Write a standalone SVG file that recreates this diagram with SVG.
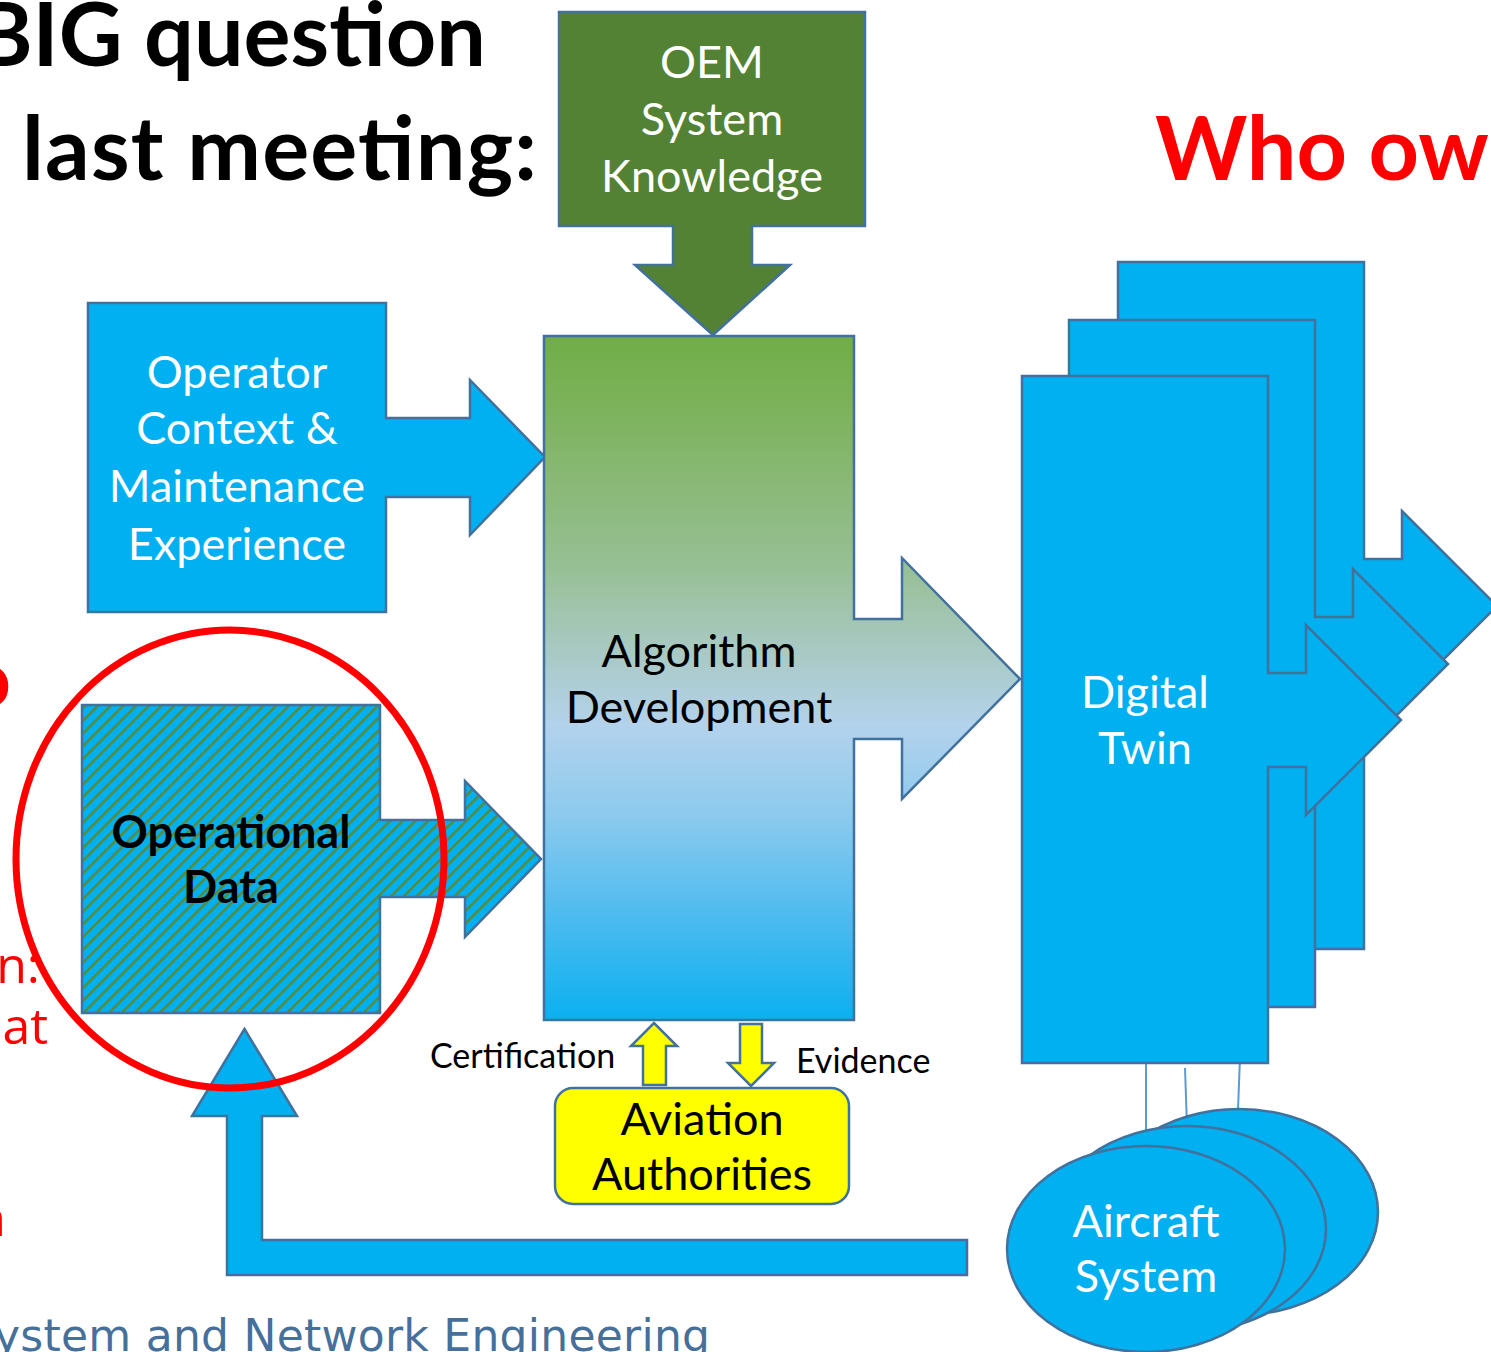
<svg xmlns="http://www.w3.org/2000/svg" width="1491" height="1352" viewBox="0 0 1491 1352">
<defs>
<style>
.shape{stroke:#41719c;stroke-width:2.5;stroke-linejoin:miter}
.blue{fill:#00b0f0}
.t{font-family:Lato,"Liberation Sans",sans-serif;font-size:45px;text-anchor:middle}
.w{fill:#ffffff}
.k{fill:#000000}
.title{font-family:Lato,"Liberation Sans",sans-serif;font-weight:bold;font-size:88px}
.lbl{font-family:Lato,"Liberation Sans",sans-serif;font-size:34px;fill:#000000}
.red{fill:#ff0000}
.redtxt{font-family:"Open Sans","Liberation Sans",sans-serif;font-size:50px;fill:#ff0000;text-anchor:end}
.link{stroke:#5b9bd5;stroke-width:2;fill:none}
</style>
<linearGradient id="algGrad" x1="0" y1="0" x2="0" y2="1">
<stop offset="0" stop-color="#70ad47"/>
<stop offset="0.1" stop-color="#7cb25a"/>
<stop offset="0.33" stop-color="#96bf92"/>
<stop offset="0.46" stop-color="#a9c9c3"/>
<stop offset="0.57" stop-color="#b3d2ec"/>
<stop offset="0.7" stop-color="#8ccaee"/>
<stop offset="0.84" stop-color="#50bcef"/>
<stop offset="1" stop-color="#0ab0f0"/>
</linearGradient>
<pattern id="hatch" width="9" height="9" patternUnits="userSpaceOnUse" patternTransform="rotate(45)">
<rect width="9" height="9" fill="#00b0f0"/>
<rect width="2.5" height="9" fill="#5a8a36"/>
</pattern>
<polygon id="dtShape" points="1022,376 1268,376 1268,673 1306,673 1306,625 1401,720 1306,815 1306,767 1268,767 1268,1063 1022,1063"/>
</defs>
<rect width="1491" height="1352" fill="#ffffff"/>

<g id="titles">
<text class="title k" x="486" y="66" text-anchor="end">BIG question</text>
<text class="title k" x="22" y="180" textLength="515" lengthAdjust="spacing">last meeting:</text>
<text class="title red" x="1155" y="180">Who ow</text>
<text x="-35" y="707" font-family="Lato,'Liberation Sans',sans-serif" font-weight="bold" font-size="80" fill="#ff0000">o</text>
<text class="redtxt" x="40" y="983">n:</text>
<text class="redtxt" x="48" y="1044">at</text>
<text class="redtxt" x="6" y="1236">n</text>
<text x="-6" y="1351" font-family="'DejaVu Sans',Verdana,sans-serif" font-size="44" fill="#46709a" textLength="716" lengthAdjust="spacing">ystem and Network Engineering</text>
</g>

<g id="connectors">
<polygon id="feedback-arrow" class="shape blue" points="967,1240 967,1275 227,1275 227,1116 192,1116 244.5,1029 297,1116 262,1116 262,1240"/>
<polygon id="certification-arrow" class="shape" fill="#ffff00" points="643,1085 643,1046 631,1046 654,1023 677,1046 666,1046 666,1085"/>
<polygon id="evidence-arrow" class="shape" fill="#ffff00" points="740,1024 762,1024 762,1063 774,1063 751,1086 728,1063 740,1063"/>
<line class="link" x1="1146" y1="1063" x2="1146" y2="1146"/>
<line class="link" x1="1185" y1="1068" x2="1187" y2="1126"/>
<line class="link" x1="1240" y1="1057" x2="1238" y2="1110"/>
</g>

<g id="oem">
<polygon class="shape" fill="#548235" points="559,12 865,12 865,226 752,226 752,265 790,265 713,335 635,265 673,265 673,226 559,226"/>
<text class="t w" x="712" y="78">OEM</text>
<text class="t w" x="712" y="135">System</text>
<text class="t w" x="712" y="192">Knowledge</text>
</g>

<g id="operator">
<polygon class="shape blue" points="88,303 386,303 386,418 470,418 470,380 545,457 470,535 470,497 386,497 386,612 88,612"/>
<text class="t w" x="237" y="388">Operator</text>
<text class="t w" x="237" y="444">Context &amp;</text>
<text class="t w" x="237" y="502">Maintenance</text>
<text class="t w" x="237" y="560">Experience</text>
</g>

<g id="algorithm">
<polygon class="shape" fill="url(#algGrad)" points="544,336 854,336 854,619 902,619 902,558 1020,679 902,799 902,739 854,739 854,1020 544,1020"/>
<text class="t k" x="699" y="667">Algorithm</text>
<text class="t k" x="699" y="723">Development</text>
</g>

<g id="operational-data">
<polygon class="shape" fill="url(#hatch)" points="82,705 380,705 380,820 465,820 465,781 541,859 465,937 465,897 380,897 380,1013 82,1013"/>
<text class="t k" x="231" y="848" font-weight="bold">Operational</text>
<text class="t k" x="231" y="903" font-weight="bold">Data</text>
</g>

<g id="aviation">
<rect class="shape" fill="#ffff00" x="555" y="1088" width="294" height="116" rx="18"/>
<text class="t k" x="702" y="1135">Aviation</text>
<text class="t k" x="702" y="1190">Authorities</text>
</g>

<g id="labels">
<text class="lbl" x="430" y="1068">Certification</text>
<text class="lbl" x="796" y="1073">Evidence</text>
</g>

<g id="digital-twin">
<use href="#dtShape" class="shape blue" transform="translate(96,-114)"/>
<use href="#dtShape" class="shape blue" transform="translate(47,-56)"/>
<use href="#dtShape" class="shape blue"/>
<text class="t w" x="1145" y="708">Digital</text>
<text class="t w" x="1145" y="764">Twin</text>
</g>

<g id="aircraft">
<ellipse class="shape blue" cx="1239" cy="1212" rx="139" ry="103"/>
<ellipse class="shape blue" cx="1187" cy="1229" rx="139" ry="103"/>
<ellipse class="shape blue" cx="1146" cy="1249" rx="139" ry="103"/>
<text class="t w" x="1146" y="1237">Aircraft</text>
<text class="t w" x="1146" y="1292">System</text>
</g>

<g id="highlight">
<ellipse cx="230" cy="859" rx="214" ry="229" fill="none" stroke="#ff0000" stroke-width="7"/>
</g>
</svg>
